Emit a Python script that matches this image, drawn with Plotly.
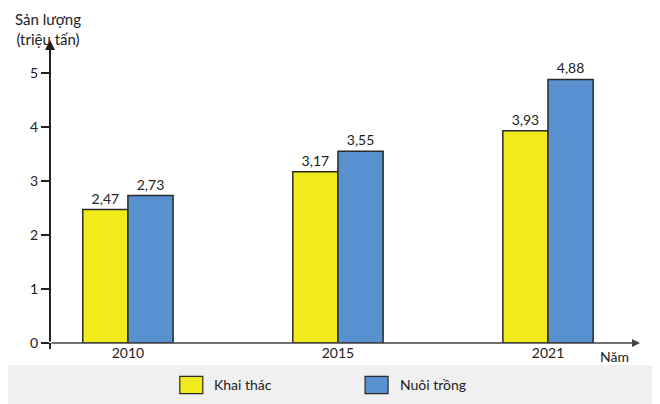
import plotly.graph_objects as go

years = ["2010", "2015", "2021"]
khai_thac = [2.47, 3.17, 3.93]
nuoi_trong = [2.73, 3.55, 4.88]
yticks = [0, 1, 2, 3, 4, 5]

font = "Lato"
dark = "#222222"

fig = go.Figure()
fig.add_trace(go.Bar(name="Khai thác", x=years, y=khai_thac,
                     marker_color="#f2eb1c", marker_line_color="#2a2a2a", marker_line_width=1.5,
                     texttemplate="%{y:.2f}", textposition="outside", cliponaxis=False,
                     textfont=dict(size=14, color=dark)))
fig.add_trace(go.Bar(name="Nuôi trồng", x=years, y=nuoi_trong,
                     marker_color="#5990cf", marker_line_color="#2a2a2a", marker_line_width=1.5,
                     texttemplate="%{y:.2f}", textposition="outside", cliponaxis=False,
                     textfont=dict(size=14, color=dark)))

# page body has an 8px margin, so the figure is a bit smaller than the window
fig.update_layout(
    width=652, height=396,
    margin=dict(l=42, r=20, t=32, b=61),
    paper_bgcolor="white", plot_bgcolor="white",
    barmode="group", bargap=0.57, bargroupgap=0,
    separators=",.",
    showlegend=False,
    font=dict(family=font, size=14, color=dark),
)
fig.update_xaxes(range=[-0.371, 2.438], showline=False, showgrid=False, ticks="",
                 automargin=False, tickfont=dict(size=14, color=dark))
fig.update_yaxes(range=[0, 5.61], tickvals=yticks, showgrid=False, zeroline=False,
                 showline=False, ticks="outside", ticklen=8, tickwidth=2, tickcolor=dark,
                 automargin=False, tickfont=dict(size=14, color=dark))

# light grey band under the chart
fig.add_shape(type="rect", xref="paper", yref="paper", x0=-0.08, x1=1.04, y0=-0.25, y1=-0.0726,
              line_width=0, fillcolor="#f0f0f0", layer="below")

# axis lines with arrow heads
fig.add_shape(type="line", xref="paper", yref="paper", x0=0, x1=0, y0=-0.02, y1=0,
              line=dict(color=dark, width=2))
fig.add_annotation(xref="paper", yref="paper", x=0, y=1.0, axref="pixel", ayref="pixel",
                   ax=0, ay=303, showarrow=True, arrowhead=2, arrowsize=1, arrowwidth=2,
                   arrowcolor=dark, text="")
fig.add_annotation(xref="paper", yref="paper", x=1.0, y=0, axref="pixel", ayref="pixel",
                   ax=-590, ay=0, showarrow=True, arrowhead=2, arrowsize=1, arrowwidth=1.6,
                   arrowcolor="#444444", text="")

# axis titles
fig.add_annotation(xref="paper", yref="paper", x=-0.003, y=1.107, xanchor="center", yanchor="top",
                   text="Sản lượng<br>(triệu tấn)", showarrow=False, align="center",
                   font=dict(size=15, color=dark))
fig.add_annotation(xref="paper", yref="paper", x=0.956, y=-0.045, xanchor="center", yanchor="middle",
                   text="Năm", showarrow=False, font=dict(size=14, color=dark))

# legend
fig.add_shape(type="rect", xref="paper", yref="paper", x0=0.22, x1=0.259, y0=-0.167, y1=-0.11,
              fillcolor="#f2eb1c", line=dict(color="#2a2a2a", width=1.2))
fig.add_annotation(xref="paper", yref="paper", x=0.274, y=-0.138, xanchor="left", yanchor="middle",
                   text="Khai thác", showarrow=False, font=dict(size=14, color=dark))
fig.add_shape(type="rect", xref="paper", yref="paper", x0=0.534, x1=0.573, y0=-0.167, y1=-0.11,
              fillcolor="#5990cf", line=dict(color="#2a2a2a", width=1.2))
fig.add_annotation(xref="paper", yref="paper", x=0.59, y=-0.138, xanchor="left", yanchor="middle",
                   text="Nuôi trồng", showarrow=False, font=dict(size=14, color=dark))

fig.write_html("out.html")
